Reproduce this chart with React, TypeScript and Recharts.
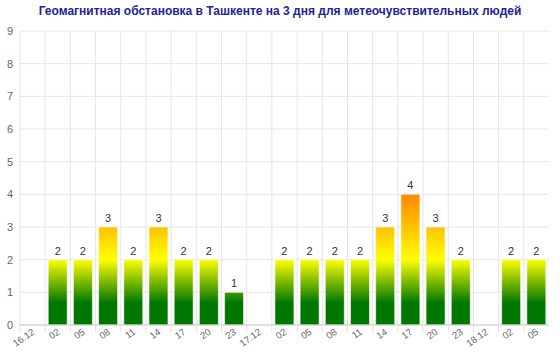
import React from "react";
import {
  Bar,
  BarChart,
  CartesianGrid,
  LabelList,
  XAxis,
  YAxis,
} from "recharts";

const hours = [
  "16.12", "02", "05", "08", "11", "14", "17", "20", "23",
  "17.12", "02", "05", "08", "11", "14", "17", "20", "23",
  "18.12", "02", "05",
];
const kpValues: (number | null)[] = [
  null, 2, 2, 3, 2, 3, 2, 2, 1,
  null, 2, 2, 2, 2, 3, 4, 3, 2,
  null, 2, 2,
];
const yTicks = [0, 1, 2, 3, 4, 5, 6, 7, 8, 9];

const data = hours.map((h, i) => ({ id: i, label: h, kp: kpValues[i] }));

const W = 560;
const H = 354;
const M = { top: 31, right: 11, bottom: 0, left: 0 };
const Y_W = 20;
const X_H = 29;
const plotTop = M.top;
const plotBottom = H - M.bottom - X_H;
const yMax = 9;
const valueToPx = (v: number) => plotBottom - (v / yMax) * (plotBottom - plotTop);
const bandStep = (W - M.left - M.right - Y_W) / hours.length;

const font = "Arial, 'Liberation Sans', sans-serif";

function XTick(props: any) {
  const { x, y, payload } = props;
  const label = hours[payload.value] ?? "";
  const edge = x - bandStep / 2;
  return (
    <g>
      <line x1={edge} x2={edge} y1={y} y2={y + 7} stroke="#e0e0e0" />
      <g transform={`translate(${x + 1},${y + 6})`}>
        <text
          textAnchor="end"
          transform="rotate(-35)"
          fontSize={9.5}
          fill="#666"
          fontFamily={font}
          dy={3}
        >
          {label}
        </text>
      </g>
    </g>
  );
}

export default function App() {
  return (
    <div style={{ position: "absolute", left: 0, top: 0, width: W, height: H, background: "#fff", fontFamily: font }}>
      <div
        style={{
          position: "absolute",
          left: 0,
          top: 4,
          width: W,
          textAlign: "center",
          fontWeight: "bold",
          fontSize: 12,
          color: "#22229a",
        }}
      >
        Геомагнитная обстановка в Ташкенте на 3 дня для метеочувствительных людей
      </div>
      <BarChart width={W} height={H} data={data} margin={M} barCategoryGap="12%">
        <defs>
          <linearGradient
            id="kpGrad"
            gradientUnits="userSpaceOnUse"
            x1="0"
            x2="0"
            y1={valueToPx(0)}
            y2={valueToPx(4)}
          >
            <stop offset="0%" stopColor="#007800" />
            <stop offset="17%" stopColor="#007800" />
            <stop offset="50%" stopColor="#ffff00" />
            <stop offset="75%" stopColor="#ffc200" />
            <stop offset="100%" stopColor="#ff8800" />
          </linearGradient>
        </defs>
        <CartesianGrid
          stroke="#e6e6e6"
          verticalCoordinatesGenerator={({ offset }: any) => {
            const step = offset.width / hours.length;
            return hours.map((_, i) => offset.left + i * step);
          }}
        />
        <XAxis
          dataKey="id"
          type="category"
          height={X_H}
          interval={0}
          tick={<XTick />}
          tickLine={false}
          tickSize={0}
          tickMargin={0}
          axisLine={{ stroke: "#ccc" }}
        />
        <YAxis
          width={Y_W}
          domain={[0, yMax]}
          ticks={yTicks}
          interval={0}
          axisLine={false}
          tickLine={false}
          tickSize={0}
          tickMargin={7}
          tick={{ fontSize: 11, fill: "#666", fontFamily: font }}
        />
        <Bar dataKey="kp" fill="url(#kpGrad)" stroke="rgba(255,255,255,0.6)" isAnimationActive={false}>
          <LabelList
            dataKey="kp"
            position="top"
            offset={5}
            fontSize={11}
            fill="#333"
            fontFamily={font}
          />
        </Bar>
      </BarChart>
    </div>
  );
}
